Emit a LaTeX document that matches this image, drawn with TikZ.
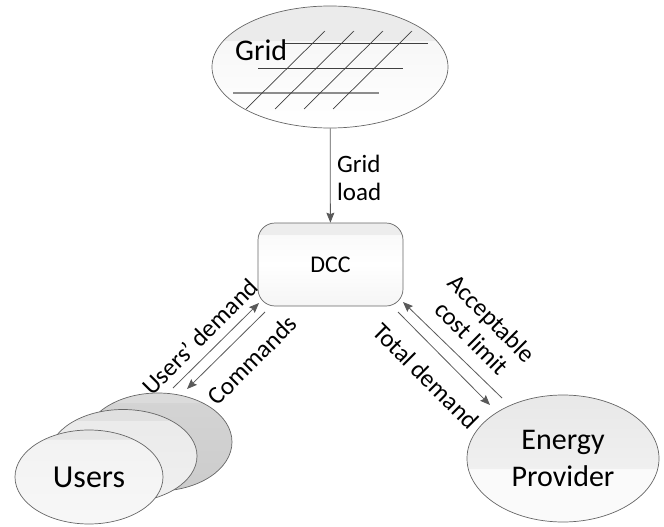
\documentclass[tikz,border=0pt]{standalone}
\usepackage{fontspec}
\setmainfont{Carlito}
\usetikzlibrary{positioning}
\usetikzlibrary{arrows.meta}
\usetikzlibrary{shapes.geometric}

%glossy fills: path box runs from 25bp (bottom) to 75bp (top)
\pgfdeclareverticalshading{glossgrid}{100bp}{color(0bp)=(white); color(25bp)=(white); color(61bp)=(black!3); color(61bp)=(black!8); color(100bp)=(black!8)}
\pgfdeclareverticalshading{glossbox}{100bp}{color(0bp)=(black!4); color(25bp)=(black!4); color(50bp)=(white); color(68bp)=(black!2); color(68bp)=(black!7); color(100bp)=(black!7)}
\pgfdeclareverticalshading{glosshalf}{100bp}{color(0bp)=(black!2); color(25bp)=(black!2); color(46bp)=(black!2); color(46bp)=(black!6); color(75bp)=(black!9); color(100bp)=(black!9)}
\pgfdeclareverticalshading{glossfront}{100bp}{color(0bp)=(black!3); color(25bp)=(black!3); color(70bp)=(black!5); color(70bp)=(black!10); color(100bp)=(black!10)}
\pgfdeclareverticalshading{glossmid}{100bp}{color(0bp)=(black!6); color(25bp)=(black!6); color(69bp)=(black!8); color(69bp)=(black!12); color(100bp)=(black!12)}
\pgfdeclareverticalshading{glossback}{100bp}{color(0bp)=(black!20); color(25bp)=(black!20); color(70bp)=(black!17); color(70bp)=(black!14); color(100bp)=(black!14)}

\begin{document}
\begin{tikzpicture}[x=1pt,y=-1pt,
flow/.style={draw=black!65,line width=0.8pt,-{Stealth[length=10pt,width=8pt,inset=1.5pt]}},
blob/.style={ellipse,draw=black!60,line width=0.7pt,inner sep=0pt},
wire/.style={black!75,line width=0.7pt},
lbl/.style={font=\fontsize{25}{28}\selectfont,inner sep=0pt},
big/.style={font=\fontsize{30}{37}\selectfont}]
\useasboundingbox (0,0) rectangle (664,527);

%----------grid
\node[blob,minimum width=236pt,minimum height=122pt,shading=glossgrid] (grid) at (330,67) {};
\draw[wire] (285,43) -- (428,43);
\draw[wire] (258,68) -- (403,68);
\draw[black!45,line width=1.4pt] (233,93) -- (379,93);
\foreach \x in {246,275,304,333}{%
\draw[wire] (\x,109) -- (\x+79,31);
}
\node[big,anchor=base west,inner sep=0pt] (gridname) at (235,61) {Grid};

%----------dcc
\node[draw=black!60,line width=0.7pt,rounded corners=17pt,
minimum width=145pt,minimum height=83pt,shading=glossbox,
font=\fontsize{24}{28}\selectfont] (dcc) at (330.5,264.5) {DCC};

%line:
\draw[flow] (grid) -- (dcc);
\node[lbl,align=left,anchor=north west] (gridload) at (337,154.5) {Grid\\load};

%----------users
\node[blob,minimum width=148pt,minimum height=98pt,shading=glossback] (usersback) at (158,442) {};
\node[blob,minimum width=148pt,minimum height=93pt,shading=glossmid] (usersmid) at (123,456) {};
\node[blob,minimum width=148pt,minimum height=94pt,shading=glossfront,
font=\fontsize{32}{37}\selectfont] (users) at (89,477) {Users};

%----------provider
\node[blob,minimum width=192pt,minimum height=127pt,shading=glosshalf,big,align=center] (provider) at (563,458.5) {Energy\\Provider};

%arrow ends
\coordinate (udtail) at (173,388);
\coordinate (udhead) at (259,303);
\coordinate (cmtail) at (265,312);
\coordinate (cmhead) at (187,389);
\coordinate (actail) at (502,398);
\coordinate (achead) at (403,302);
\coordinate (tdtail) at (398,312);
\coordinate (tdhead) at (490,405);

\draw[flow] (udtail) -- (udhead);
\draw[flow] (cmtail) -- (cmhead);
\draw[flow] (actail) -- (achead);
\draw[flow] (tdtail) -- (tdhead);

\node[lbl,rotate=45] (usersdemand) at (200,337) {Users’ demand};
\node[lbl,rotate=45] (commands) at (252,360) {Commands};
\node[lbl,rotate=-45,align=center] (costlimit) at (482,328) {Acceptable\\cost limit};
\node[lbl,rotate=-45] (totaldemand) at (426,376) {Total demand};

\end{tikzpicture}
\end{document}
